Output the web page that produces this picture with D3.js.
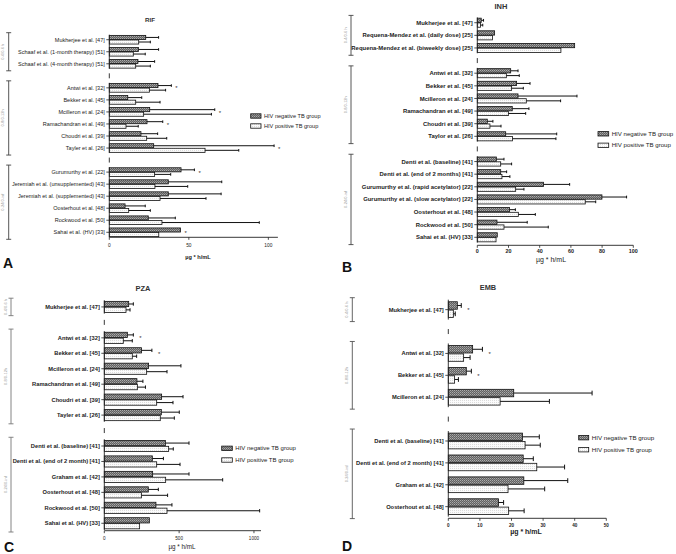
<!DOCTYPE html>
<html><head><meta charset="utf-8">
<script src="https://cdn.jsdelivr.net/npm/d3@7"></script>
<style>body{margin:0;background:#fff} svg{display:block;font-family:"Liberation Sans",Arial,sans-serif}</style>
</head><body>
<svg id="c" width="676" height="554"></svg>
<script>
// ---------- shared text ----------
const groupLabels = ["0-4/0-6 h", "0-8/0-12h", "0-24/0-inf"];
const legendLabels = ["HIV negative TB group", "HIV positive TB group"];
const axisTitle = "µg * h/mL";

// ---------- A: RIF ----------
const rifStudies = ["Mukherjee et al. [47]", "Schaaf et al. (1-month therapy) [51]", "Schaaf et al. (4-month therapy) [51]",
  "Antwi et al. [32]", "Bekker et al. [45]", "Mcilleron et al. [24]", "Ramachandran et al. [49]", "Choudri et al. [39]", "Tayler et al. [26]",
  "Gurumurthy et al. [22]", "Jeremiah et al. (unsupplemented) [43]", "Jeremiah et al. (supplemented) [43]", "Oosterhout et al. [48]", "Rockwood et al. [50]", "Sahai et al. (HV) [33]"];
const rifGroupSizes = [3, 6, 6];
const rifNeg   = [22.9, 18.3, 18.0, 30.6, 11.6, 25.4, 23.7, 19.9, 27.9, 45.1, 37.1, 37.1, 9.9, 24.5, 44.7];
const rifNegSD = [8.1, 12.7, 10.5, 8.4, 8.8, 40.9, 9.9, 10.5, 75.7, 8.4, 33.6, 33.2, 12.7, 17.0, null];
const rifPos   = [18.5, 15.1, 16.6, 25.2, 16.6, 21.6, 10.5, 23.5, 60.2, 28.5, 28.7, 31.9, 12.2, 33.1, 31.1];
const rifPosSD = [7.3, 7.5, 9.2, 10.2, 15.3, 42.6, 7.7, 12.6, 21.2, 10.1, 20.6, 28.9, 13.6, 61.2, null];
const rifSig   = [0, 0, 0, 1, 0, 1, 1, 0, 1, 1, 0, 0, 0, 0, 1];
const rifTicks = [0, 50, 100];

// ---------- B: INH ----------
const inhStudies = ["Mukherjee et al. [47]", "Requena-Mendez et al. (daily dose) [25]", "Requena-Mendez et al. (biweekly dose) [25]",
  "Antwi et al. [32]", "Bekker et al. [45]", "Mcilleron et al. [24]", "Ramachandran et al. [49]", "Choudri et al. [39]", "Taylor et al. [26]",
  "Denti et al. (baseline) [41]", "Denti et al. (end of 2 months) [41]", "Gurumurthy et al. (rapid acetylator) [22]", "Gurumurthy et al. (slow acetylator) [22]",
  "Oosterhout et al. [48]", "Rockwood et al. [50]", "Sahai et al. (HV) [33]"];
const inhGroupSizes = [3, 6, 7];
const inhNeg   = [2.5, 11.1, 62.4, 21.4, 25.2, 26.1, 22.4, 6.4, 18.2, 12.2, 15.0, 42.5, 79.9, 20.7, 12.6, 12.8];
const inhNegSD = [1.5, null, null, 4.7, 8.6, 37.8, 10.7, 3.6, 32.7, 4.9, 3.8, 16.7, 15.8, 3.7, 19.4, null];
const inhPos   = [2.0, 9.8, 53.6, 18.6, 22.0, 31.4, 19.9, 8.1, 22.6, 15.0, 15.8, 24.6, 69.2, 26.3, 17.1, 12.0];
const inhPosSD = [1.5, null, null, 8.3, 7.5, 22.0, 11.1, 7.1, 27.8, 7.0, 5.1, 5.3, 6.7, 10.9, 28.4, null];
const inhSig   = [0, 0, 0, 0, 0, 0, 0, 0, 0, 0, 0, 0, 0, 0, 0, 0];
const inhTicks = [0, 20, 40, 60, 80, 100];

// ---------- C: PZA ----------
const pzaStudies = ["Mukherjee et al. [47]",
  "Antwi et al. [32]", "Bekker et al. [45]", "Mcilleron et al. [24]", "Ramachandran et al. [49]", "Choudri et al. [39]", "Tayler et al. [26]",
  "Denti et al. (baseline) [41]", "Denti et al. (end of 2 month) [41]", "Graham et al. [42]", "Oosterhout et al. [48]", "Rockwood et al. [50]", "Sahai et al. (HV) [33]"];
const pzaGroupSizes = [1, 6, 6];
const pzaNeg   = [163, 154, 249, 296, 218, 383, 381, 408, 321, 323, 294, 345, 301];
const pzaNegSD = [31, 40, 69, 216, 40, 143, 120, 158, 74, 243, 67, 107, null];
const pzaPos   = [145, 127, 187, 283, 221, 350, 374, 430, 350, 410, 249, 419, 236];
const pzaPosSD = [27, 60, 29, 136, 54, 109, 94, 31, 156, 381, 174, 619, null];
const pzaSig   = [0, 1, 1, 0, 0, 0, 0, 0, 0, 0, 0, 0, 0];
const pzaTicks = [0, 500, 1000];

// ---------- D: EMB ----------
const embStudies = ["Mukherjee et al. [47]",
  "Antwi et al. [32]", "Bekker et al. [45]", "Mcilleron et al. [24]",
  "Denti et al. (baseline) [41]", "Denti et al. (end of 2 month) [41]", "Graham et al. [42]", "Oosterhout et al. [48]"];
const embGroupSizes = [1, 3, 4];
const embNeg   = [2.85, 7.7, 5.7, 20.7, 23.5, 23.7, 23.9, 15.9];
const embNegSD = [1.25, 3.1, 1.6, 24.8, 5.3, 3.2, 13.9, 1.6];
const embPos   = [1.6, 4.85, 2.0, 16.4, 24.3, 28.0, 18.9, 19.1];
const embPosSD = [0.6, 2.05, 1.2, 15.6, 4.8, 8.8, 11.6, 4.9];
const embSig   = [1, 1, 1, 0, 0, 0, 0, 0];
const embTicks = [0, 10, 20, 30, 40, 50];

const svg = d3.select("#c");
const defs = svg.append("defs");
const negPat = defs.append("pattern").attr("id", "negPat").attr("patternUnits", "userSpaceOnUse").attr("width", 2).attr("height", 2);
negPat.append("rect").attr("width", 2).attr("height", 2).attr("fill", "#626262");
negPat.append("rect").attr("width", 1).attr("height", 1).attr("fill", "#ababab");
negPat.append("rect").attr("x", 1).attr("y", 1).attr("width", 1).attr("height", 1).attr("fill", "#8c8c8c");
const posPat = defs.append("pattern").attr("id", "posPat").attr("patternUnits", "userSpaceOnUse").attr("width", 2).attr("height", 2);
posPat.append("rect").attr("width", 2).attr("height", 2).attr("fill", "#fbfbfb");
posPat.append("rect").attr("width", 1).attr("height", 1).attr("fill", "#dcdcdc");

function drawPanel(p) {
  const g = svg.append("g");
  const slots = [];
  let idx = 0;
  p.groupSizes.forEach((n, gi) => {
    if (gi > 0) slots.push({ type: "gap", key: "gap" + gi });
    for (let k = 0; k < n; k++) { slots.push({ type: "row", i: idx, key: "r" + idx, group: gi }); idx++; }
  });
  const y = d3.scaleBand().domain(slots.map(s => s.key)).range([p.top, p.bottom]).padding(0);
  const x = d3.scaleLinear().domain([0, p.xMax]).range([p.x0, p.x1]);
  const step = y.step();
  const bh = step * 0.34, gp = step * 0.04;
  const cy = i => y("r" + i) + step / 2;

  // bars
  const series = [
    { vals: p.neg, sd: p.negSD, fill: "url(#negPat)", off: -gp / 2 - bh },
    { vals: p.pos, sd: p.posSD, fill: "url(#posPat)", off: gp / 2 }
  ];
  series.forEach(s => {
    s.vals.forEach((v, i) => {
      const top = cy(i) + s.off;
      g.append("rect").attr("x", x(0)).attr("y", top).attr("width", x(v) - x(0)).attr("height", bh)
        .attr("fill", s.fill).attr("stroke", "#111").attr("stroke-width", 0.8);
      if (s.sd[i] != null) {
        const mid = top + bh / 2, xe = x(v + s.sd[i]);
        g.append("line").attr("x1", x(v)).attr("x2", xe).attr("y1", mid).attr("y2", mid).attr("stroke", "#111").attr("stroke-width", 1);
        g.append("line").attr("x1", xe).attr("x2", xe).attr("y1", mid - Math.max(1.3, bh * 0.32)).attr("y2", mid + Math.max(1.3, bh * 0.32)).attr("stroke", "#111").attr("stroke-width", 1);
      }
    });
  });

  // significance asterisks
  p.sig.forEach((s, i) => {
    if (!s) return;
    const ends = [p.neg[i] + (p.negSD[i] || 0), p.pos[i] + (p.posSD[i] || 0)];
    g.append("text").attr("x", x(d3.max(ends)) + p.astOff).attr("y", cy(i) + 2.6)
      .attr("font-size", 6).attr("fill", "#333").text("*");
  });

  // y axis segments per group + gap stubs + brackets
  let start = 0;
  p.groupSizes.forEach((n, gi) => {
    const t = y("r" + start), b = y("r" + (start + n - 1)) + step;
    g.append("line").attr("x1", p.x0).attr("x2", p.x0).attr("y1", t + 1).attr("y2", b - 1).attr("stroke", "#222").attr("stroke-width", 0.9);
    const bx = p.bracketX;
    const bt = t - 1, bb = b + 1;
    g.append("line").attr("x1", bx).attr("x2", bx).attr("y1", bt).attr("y2", bb).attr("stroke", p.bracketColor).attr("stroke-width", 0.9);
    g.append("line").attr("x1", bx - 2.5).attr("x2", bx + 2.5).attr("y1", bt).attr("y2", bt).attr("stroke", p.bracketColor).attr("stroke-width", 0.9);
    g.append("line").attr("x1", bx - 2.5).attr("x2", bx + 2.5).attr("y1", bb).attr("y2", bb).attr("stroke", p.bracketColor).attr("stroke-width", 0.9);
    g.append("text").attr("transform", `translate(${bx - 4.5},${(bt + bb) / 2}) rotate(-90)`)
      .attr("text-anchor", "middle").attr("font-size", 4).attr("fill", "#9a9a9a").text(groupLabels[gi]);
    if (gi > 0) {
      const gc = y("gap" + gi) + step / 2;
      g.append("line").attr("x1", p.x0).attr("x2", p.x0).attr("y1", gc - 2.5).attr("y2", gc + 2.5).attr("stroke", "#222").attr("stroke-width", 0.9);
    }
    start += n;
  });

  // y ticks + labels
  const labG = g.append("g").attr("font-weight", p.labelBold ? "bold" : "normal").attr("fill", "#222");
  const labs = p.studies.map((s, i) => {
    g.append("line").attr("x1", p.x0 - 3).attr("x2", p.x0).attr("y1", cy(i)).attr("y2", cy(i)).attr("stroke", "#222").attr("stroke-width", 0.8);
    return labG.append("text").attr("x", p.x0 - 4.5).attr("y", cy(i)).attr("dy", "0.35em")
      .attr("text-anchor", "end").attr("font-size", 10).text(s);
  });
  const w = labs[p.refLabel].node().getComputedTextLength();
  const fs = 10 * p.refWidth / w;
  labs.forEach(t => t.attr("font-size", fs));

  // x axis
  g.append("line").attr("x1", p.x0).attr("x2", p.x1).attr("y1", p.axisY).attr("y2", p.axisY).attr("stroke", "#222").attr("stroke-width", 0.9);
  p.ticks.forEach(t => {
    g.append("line").attr("x1", x(t)).attr("x2", x(t)).attr("y1", p.axisY).attr("y2", p.axisY + 2.5).attr("stroke", "#222").attr("stroke-width", 0.8);
    g.append("text").attr("x", x(t)).attr("y", p.tickY).attr("text-anchor", "middle")
      .attr("font-size", p.tickFont).attr("font-weight", p.tickBold ? "bold" : "normal").attr("fill", "#222").text(t);
  });
  g.append("text").attr("x", p.axTitleX).attr("y", p.axTitleY).attr("text-anchor", "middle")
    .attr("font-size", p.axTitleFont).attr("font-weight", p.axTitleBold ? "bold" : "normal").attr("fill", "#222").text(axisTitle);

  // title
  g.append("text").attr("x", p.titleX).attr("y", p.titleY).attr("text-anchor", "middle")
    .attr("font-size", p.titleFont).attr("font-weight", "bold").attr("fill", "#333").text(p.title);

  // legend
  [["url(#negPat)", p.legY[0]], ["url(#posPat)", p.legY[1]]].forEach((d, k) => {
    g.append("rect").attr("x", p.legX).attr("y", d[1] - 2.2).attr("width", p.legW).attr("height", 4.4)
      .attr("fill", d[0]).attr("stroke", "#111").attr("stroke-width", 0.8);
    g.append("text").attr("x", p.legX + p.legW + 3).attr("y", d[1]).attr("dy", "0.35em")
      .attr("font-size", p.legFont).attr("fill", "#222").text(legendLabels[k]);
  });

  // panel letter
  g.append("text").attr("x", p.letterX).attr("y", p.letterY).attr("font-size", 14).attr("font-weight", "bold").attr("fill", "#111").text(p.letter);
}

drawPanel({ studies: rifStudies, groupSizes: rifGroupSizes, neg: rifNeg, negSD: rifNegSD, pos: rifPos, posSD: rifPosSD, sig: rifSig, ticks: rifTicks,
  title: "RIF", letter: "A", xMax: 106, x0: 109.3, x1: 277.9, top: 33.7, bottom: 238.3, axisY: 237.3,
  refLabel: 10, refWidth: 93.3, labelBold: false, tickY: 246.5, tickFont: 4.8, tickBold: false,
  axTitleX: 198, axTitleY: 259, axTitleFont: 5.6, axTitleBold: true,
  titleX: 150, titleY: 21.5, titleFont: 6.2, legX: 250.7, legW: 10.3, legY: [116, 126], legFont: 5.6,
  bracketX: 8.7, bracketColor: "#444", astOff: 4, letterX: 3, letterY: 268 });

drawPanel({ studies: inhStudies, groupSizes: inhGroupSizes, neg: inhNeg, negSD: inhNegSD, pos: inhPos, posSD: inhPosSD, sig: inhSig, ticks: inhTicks,
  title: "INH", letter: "B", xMax: 100, x0: 477.3, x1: 633.3, top: 16.4, bottom: 243.6, axisY: 245.3,
  refLabel: 2, refWidth: 121.7, labelBold: true, tickY: 253, tickFont: 5.4, tickBold: true,
  axTitleX: 551, axTitleY: 261.5, axTitleFont: 7, axTitleBold: false,
  titleX: 501, titleY: 8.5, titleFont: 7.5, legX: 598, legW: 10.7, legY: [133.8, 145.3], legFont: 6.1,
  bracketX: 351, bracketColor: "#444", astOff: 5, letterX: 342, letterY: 271.5 });

drawPanel({ studies: pzaStudies, groupSizes: pzaGroupSizes, neg: pzaNeg, negSD: pzaNegSD, pos: pzaPos, posSD: pzaPosSD, sig: pzaSig, ticks: pzaTicks,
  title: "PZA", letter: "C", xMax: 1047, x0: 104.3, x1: 261, top: 299.2, bottom: 531, axisY: 530.7,
  refLabel: 8, refWidth: 87.3, labelBold: true, tickY: 539.5, tickFont: 4.6, tickBold: false,
  axTitleX: 182, axTitleY: 548.5, axTitleFont: 6.3, axTitleBold: false,
  titleX: 143, titleY: 291, titleFont: 7.5, legX: 221.7, legW: 10.6, legY: [448.3, 460], legFont: 6,
  bracketX: 11, bracketColor: "#777", astOff: 6, letterX: 4, letterY: 551.5 });

drawPanel({ studies: embStudies, groupSizes: embGroupSizes, neg: embNeg, negSD: embNegSD, pos: embPos, posSD: embPosSD, sig: embSig, ticks: embTicks,
  title: "EMB", letter: "D", xMax: 50, x0: 448.3, x1: 606.3, top: 298.7, bottom: 517.6, axisY: 518.3,
  refLabel: 5, refWidth: 88, labelBold: true, tickY: 526.5, tickFont: 4.6, tickBold: true,
  axTitleX: 526, axTitleY: 534, axTitleFont: 7, axTitleBold: true,
  titleX: 488, titleY: 289.5, titleFont: 7.4, legX: 578.7, legW: 10, legY: [437.7, 449.7], legFont: 6.2,
  bracketX: 352.3, bracketColor: "#555", astOff: 6, letterX: 342, letterY: 551 });
</script>
</body></html>
